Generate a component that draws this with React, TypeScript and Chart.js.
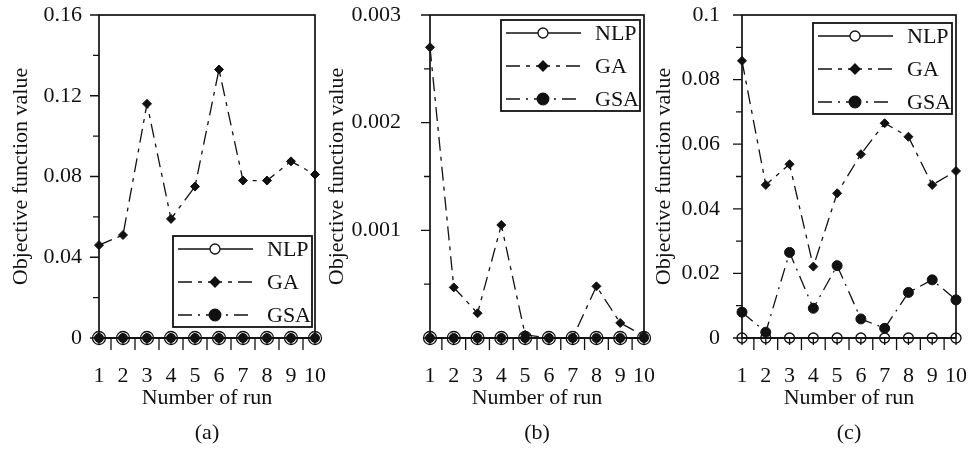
import React, { useEffect, useRef } from 'react';
import { Chart, registerables } from 'chart.js';

Chart.register(...registerables);

// ---------- data ----------
const runs = [1, 2, 3, 4, 5, 6, 7, 8, 9, 10];
const xTickLabels = ['1', '2', '3', '4', '5', '6', '7', '8', '9', '10'];
const seriesNames = ['NLP', 'GA', 'GSA'];
const xTitle = 'Number of run';
const yTitle = 'Objective function value';
const panelLabels = ['(a)', '(b)', '(c)'];

const nlpA = [0, 0, 0, 0, 0, 0, 0, 0, 0, 0];
const gaA = [0.046, 0.051, 0.116, 0.059, 0.075, 0.133, 0.078, 0.078, 0.0875, 0.081];
const gsaA = [0, 0, 0, 0, 0, 0, 0, 0, 0, 0];

const nlpB = [0, 0, 0, 0, 0, 0, 0, 0, 0, 0];
const gaB = [0.0027, 0.00047, 0.00023, 0.00105, 0.00003, 0, 0, 0.00048, 0.00014, 0.00002];
const gsaB = [0, 0, 0, 0, 0, 0, 0, 0, 0, 0];

const nlpC = [0, 0, 0, 0, 0, 0, 0, 0, 0, 0];
const gaC = [0.0858, 0.0474, 0.0538, 0.0221, 0.0448, 0.0569, 0.0665, 0.0623, 0.0474, 0.0517];
const gsaC = [0.008, 0.0018, 0.0265, 0.0092, 0.0224, 0.0059, 0.003, 0.0141, 0.018, 0.0118];

const yTicksA = [0, 0.04, 0.08, 0.12, 0.16];
const yLabelsA = ['0', '0.04', '0.08', '0.12', '0.16'];
const yTicksB = [0.001, 0.002, 0.003];
const yLabelsB = ['0.001', '0.002', '0.003'];
const yTicksC = [0, 0.02, 0.04, 0.06, 0.08, 0.1];
const yLabelsC = ['0', '0.02', '0.04', '0.06', '0.08', '0.1'];

// ---------- styling / layout ----------
const FONT = "'Liberation Serif', 'Times New Roman', serif";
const INK = '#111';

type Panel = {
  nlp: number[]; ga: number[]; gsa: number[];
  yMax: number; yMinor: number; yTicks: number[]; yLabels: string[];
  label: string;
  padLeft: number; yWidth: number; padRight: number; tickPad: number;
  legend: { corner: 'tr' | 'br'; dx: number; dy: number };
  nlpR: number; gaR: number; gsaR: number;
};

const panels: Panel[] = [
  {
    nlp: nlpA, ga: gaA, gsa: gsaA, yMax: 0.16, yMinor: 0.02, yTicks: yTicksA, yLabels: yLabelsA,
    label: panelLabels[0], padLeft: 7.8, yWidth: 91.2, padRight: 653, tickPad: 9,
    legend: { corner: 'br', dx: 3, dy: 11 }, nlpR: 6.5, gaR: 4.5, gsaR: 4.5,
  },
  {
    nlp: nlpB, ga: gaB, gsa: gsaB, yMax: 0.003, yMinor: 0.0005, yTicks: yTicksB, yLabels: yLabelsB,
    label: panelLabels[1], padLeft: 324.3, yWidth: 105.7, padRight: 324, tickPad: 21,
    legend: { corner: 'tr', dx: 4, dy: 5 }, nlpR: 6.5, gaR: 4.5, gsaR: 4.5,
  },
  {
    nlp: nlpC, ga: gaC, gsa: gsaC, yMax: 0.1, yMinor: 0.01, yTicks: yTicksC, yLabels: yLabelsC,
    label: panelLabels[2], padLeft: 650.8, yWidth: 91.2, padRight: 12, tickPad: 14,
    legend: { corner: 'tr', dx: 4, dy: 8 }, nlpR: 5, gaR: 4.5, gsaR: 5,
  },
];

const dashGA = [14, 6, 4, 6];
const dashGSA = [14, 6, 2, 6];

function drawMarker(ctx: CanvasRenderingContext2D, style: string, x: number, y: number, r: number, fill: boolean) {
  ctx.beginPath();
  if (style === 'rectRot') {
    ctx.moveTo(x, y - r);
    ctx.lineTo(x + r, y);
    ctx.lineTo(x, y + r);
    ctx.lineTo(x - r, y);
    ctx.closePath();
  } else {
    ctx.arc(x, y, r, 0, Math.PI * 2);
  }
  ctx.fillStyle = fill ? INK : '#fff';
  ctx.fill();
  ctx.setLineDash([]);
  ctx.lineWidth = 1.3;
  ctx.strokeStyle = INK;
  ctx.stroke();
}

const framePlugin = {
  id: 'frameTicks',
  beforeDatasetsDraw(chart: any, _a: any, opts: any) {
    const { ctx, chartArea: a, scales } = chart;
    const x = scales.x, y = scales.y;
    ctx.save();
    ctx.strokeStyle = INK;
    ctx.lineWidth = 1.3;
    ctx.beginPath();
    const n = Math.round((y.max - y.min) / opts.yMinor);
    for (let i = 0; i <= n; i++) {
      const v = y.min + i * opts.yMinor;
      const py = y.getPixelForValue(v);
      const major = opts.yTicks.some((m: number) => Math.abs(m - v) < opts.yMinor * 1e-3);
      ctx.moveTo(a.left - (major ? 9 : 6), py);
      ctx.lineTo(a.left, py);
    }
    for (let v = x.min; v <= x.max + 1e-9; v += 0.5) {
      const px = x.getPixelForValue(v);
      const isInt = Math.abs(v - Math.round(v)) < 1e-9;
      ctx.moveTo(px, a.bottom);
      ctx.lineTo(px, a.bottom + (isInt ? 7 : 12));
    }
    ctx.stroke();
    ctx.lineWidth = 1.7;
    ctx.strokeRect(a.left, a.top, a.right - a.left, a.bottom - a.top);
    ctx.restore();
  },
};

const legendPlugin = {
  id: 'boxLegend',
  afterDraw(chart: any, _a: any, opts: any) {
    const { ctx, chartArea: a } = chart;
    const w = 139, h = 91;
    const left = a.right - opts.dx - w;
    const top = opts.corner === 'tr' ? a.top + opts.dy : a.bottom - opts.dy - h;
    ctx.save();
    ctx.fillStyle = '#fff';
    ctx.fillRect(left, top, w, h);
    ctx.lineWidth = 1.8;
    ctx.strokeStyle = INK;
    ctx.setLineDash([]);
    ctx.strokeRect(left, top, w, h);
    const rows = [13, 46, 79];
    chart.data.datasets.forEach((ds: any, i: number) => {
      const cy = top + rows[i];
      ctx.beginPath();
      ctx.setLineDash(ds.borderDash || []);
      ctx.lineWidth = 1.3;
      ctx.strokeStyle = INK;
      ctx.moveTo(left + 5, cy);
      ctx.lineTo(left + 80, cy);
      ctx.stroke();
      const filled = ds.pointBackgroundColor !== 'rgba(0,0,0,0)';
      const r = ds.pointStyle === 'rectRot' ? 5 : filled ? 5.8 : 5;
      drawMarker(ctx, ds.pointStyle, left + 42, cy, r, filled);
      ctx.fillStyle = INK;
      ctx.font = `22px ${FONT}`;
      ctx.textAlign = 'left';
      ctx.textBaseline = 'middle';
      ctx.fillText(ds.label, left + 94, cy + 1);
    });
    ctx.restore();
  },
};

function toPoints(vals: number[]) {
  return runs.map((r, i) => ({ x: r, y: vals[i] }));
}

function PanelChart({ p }: { p: Panel }) {
  const ref = useRef<HTMLCanvasElement | null>(null);
  useEffect(() => {
    if (!ref.current) return;
    const chart = new Chart(ref.current, {
      type: 'line',
      data: {
        datasets: [
          {
            label: seriesNames[0], data: toPoints(p.nlp), borderColor: INK, borderWidth: 1.3,
            borderDash: [], pointStyle: 'circle', pointRadius: p.nlpR,
            pointBackgroundColor: 'rgba(0,0,0,0)', pointBorderColor: INK, pointBorderWidth: 1.3,
            clip: false, tension: 0,
          },
          {
            label: seriesNames[1], data: toPoints(p.ga), borderColor: INK, borderWidth: 1.3,
            borderDash: dashGA, pointStyle: 'rectRot', pointRadius: p.gaR,
            pointBackgroundColor: INK, pointBorderColor: INK, pointBorderWidth: 1,
            clip: false, tension: 0,
          },
          {
            label: seriesNames[2], data: toPoints(p.gsa), borderColor: INK, borderWidth: 1.3,
            borderDash: dashGSA, pointStyle: 'circle', pointRadius: p.gsaR,
            pointBackgroundColor: INK, pointBorderColor: INK, pointBorderWidth: 1,
            clip: false, tension: 0,
          },
        ] as any,
      },
      options: {
        animation: false,
        responsive: false,
        devicePixelRatio: 1,
        events: [],
        layout: { padding: { left: p.padLeft, right: p.padRight, top: 15, bottom: 0 } },
        plugins: {
          legend: { display: false },
          tooltip: { enabled: false },
          frameTicks: { yMinor: p.yMinor, yTicks: p.yTicks },
          boxLegend: p.legend,
        } as any,
        scales: {
          x: {
            type: 'linear', min: 1, max: 10,
            grid: { display: false }, border: { display: false },
            afterBuildTicks: (s: any) => { s.ticks = runs.map((v) => ({ value: v })); },
            afterFit: (s: any) => { s.height = 115; s.paddingLeft = 0; s.paddingRight = 0; },
            ticks: {
              padding: 17, color: INK, font: { family: FONT, size: 22 }, maxRotation: 0, autoSkip: false,
              callback: (v: any) => xTickLabels[runs.indexOf(Number(v))] ?? '',
            },
            title: {
              display: true, text: [xTitle, p.label], color: INK,
              font: { family: FONT, size: 22, lineHeight: 35 / 22 },
              padding: { top: 0, bottom: 2.5 },
            },
          },
          y: {
            type: 'linear', min: 0, max: p.yMax,
            grid: { display: false }, border: { display: false },
            afterBuildTicks: (s: any) => { s.ticks = p.yTicks.map((v) => ({ value: v })); },
            afterFit: (s: any) => { s.width = p.yWidth; s.paddingTop = 0; s.paddingBottom = 0; },
            ticks: {
              padding: p.tickPad, color: INK, font: { family: FONT, size: 22 },
              callback: (v: any) => {
                const i = p.yTicks.findIndex((t) => Math.abs(t - Number(v)) < p.yMax * 1e-6);
                return i >= 0 ? p.yLabels[i] : '';
              },
            },
            title: {
              display: true, text: yTitle, color: INK,
              font: { family: FONT, size: 22, lineHeight: 1.2 },
              padding: 0,
            },
          },
        } as any,
      },
      plugins: [framePlugin, legendPlugin],
    });
    return () => chart.destroy();
  }, [p]);
  return (
    <canvas
      ref={ref}
      width={968}
      height={453}
      style={{ position: 'absolute', left: 0, top: 0, width: 968, height: 453 }}
    />
  );
}

export default function App() {
  return (
    <div style={{ position: 'absolute', left: 0, top: 0, width: 968, height: 453, background: '#fff', overflow: 'hidden' }}>
      {panels.map((p, i) => (
        <PanelChart key={i} p={p} />
      ))}
    </div>
  );
}
